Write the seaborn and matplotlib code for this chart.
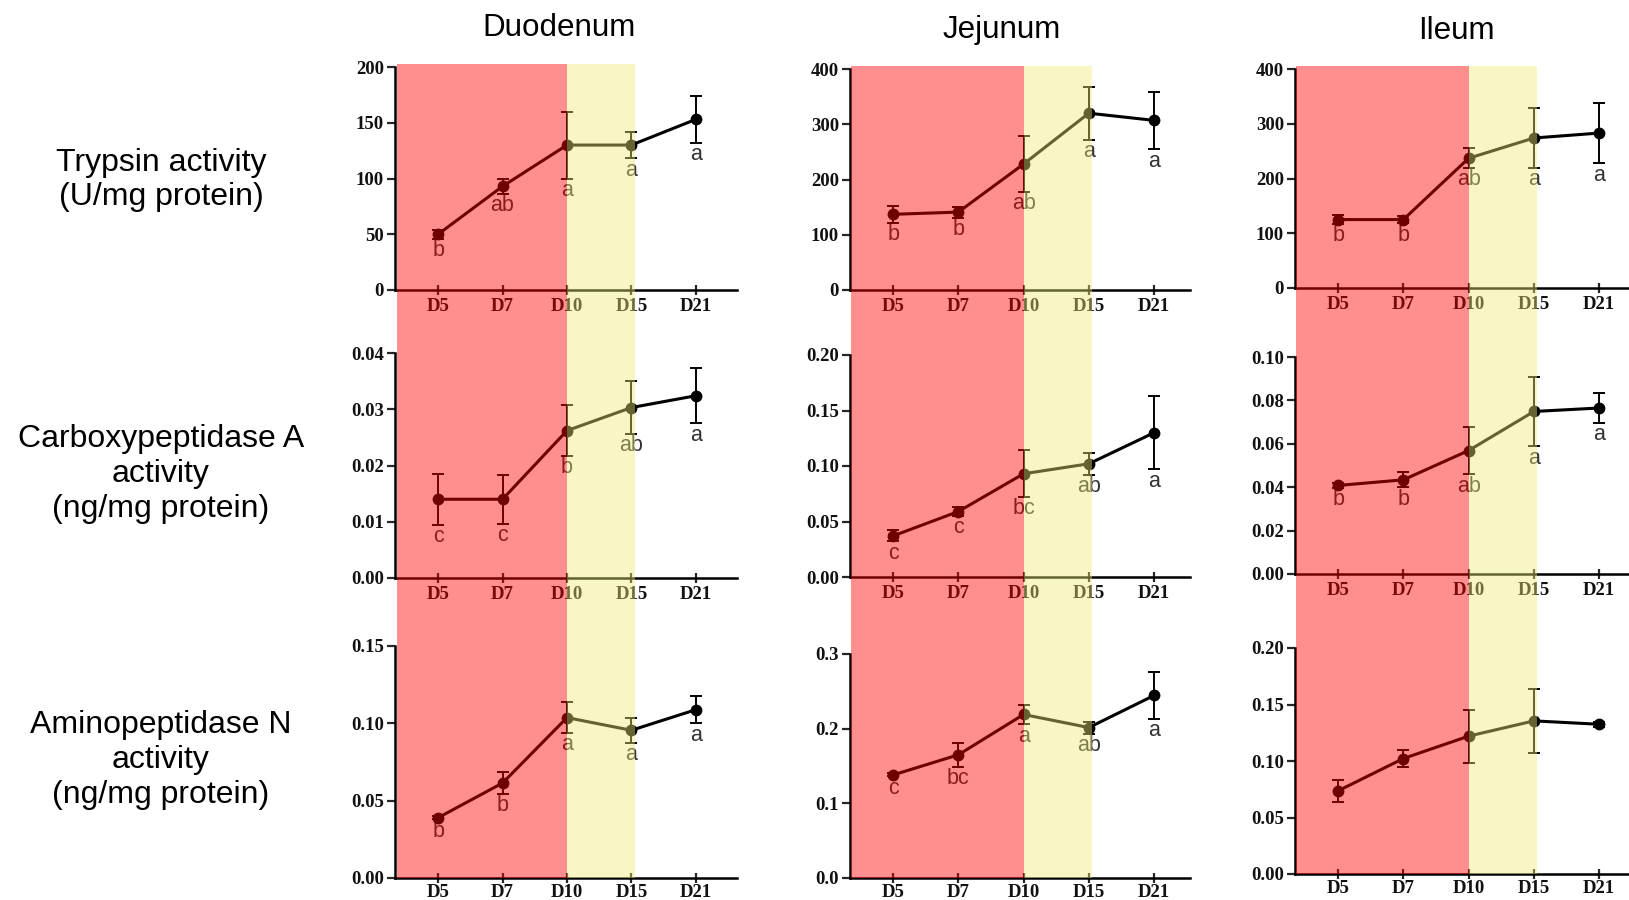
import numpy as np
import pandas as pd
import matplotlib
matplotlib.use("Agg")
import matplotlib.pyplot as plt
import seaborn as sns
from matplotlib.patches import Rectangle

# ---- data ----
days = ["D5", "D7", "D10", "D15", "D21"]
sites = ["Duodenum", "Jejunum", "Ileum"]
row_labels = ["Trypsin activity\n(U/mg protein)",
              "Carboxypeptidase A\nactivity\n(ng/mg protein)",
              "Aminopeptidase N\nactivity\n(ng/mg protein)"]

# trypsin (U/mg protein)
try_duo_mean = [50, 93, 130, 130, 153]
try_duo_sd = [4, 7, 30, 12, 21]
try_duo_let = ["b", "ab", "a", "a", "a"]
try_jej_mean = [137, 141, 228, 320, 307]
try_jej_sd = [15, 10, 50, 48, 52]
try_jej_let = ["b", "b", "ab", "a", "a"]
try_ile_mean = [125, 125, 237, 274, 283]
try_ile_sd = [8, 7, 18, 54, 55]
try_ile_let = ["b", "b", "ab", "a", "a"]

# carboxypeptidase A (ng/mg protein)
cpa_duo_mean = [0.0140, 0.0140, 0.0262, 0.0303, 0.0324]
cpa_duo_sd = [0.0045, 0.0044, 0.0045, 0.0047, 0.0049]
cpa_duo_let = ["c", "c", "b", "ab", "a"]
cpa_jej_mean = [0.037, 0.059, 0.093, 0.102, 0.130]
cpa_jej_sd = [0.005, 0.004, 0.021, 0.010, 0.033]
cpa_jej_let = ["c", "c", "bc", "ab", "a"]
cpa_ile_mean = [0.0408, 0.0434, 0.0569, 0.0749, 0.0765]
cpa_ile_sd = [0.001, 0.0035, 0.011, 0.016, 0.0068]
cpa_ile_let = ["b", "b", "ab", "a", "a"]

# aminopeptidase N (ng/mg protein)
apn_duo_mean = [0.039, 0.0614, 0.1037, 0.0955, 0.1088]
apn_duo_sd = [0.001, 0.007, 0.010, 0.008, 0.0087]
apn_duo_let = ["b", "b", "a", "a", "a"]
apn_jej_mean = [0.138, 0.165, 0.219, 0.2015, 0.2445]
apn_jej_sd = [0.002, 0.016, 0.013, 0.008, 0.031]
apn_jej_let = ["c", "bc", "a", "ab", "a"]
apn_ile_mean = [0.0736, 0.1022, 0.122, 0.1355, 0.1325]
apn_ile_sd = [0.0099, 0.0074, 0.0235, 0.028, 0.002]
apn_ile_let = ["", "", "", "", ""]

means = [[try_duo_mean, try_jej_mean, try_ile_mean],
         [cpa_duo_mean, cpa_jej_mean, cpa_ile_mean],
         [apn_duo_mean, apn_jej_mean, apn_ile_mean]]
sds = [[try_duo_sd, try_jej_sd, try_ile_sd],
       [cpa_duo_sd, cpa_jej_sd, cpa_ile_sd],
       [apn_duo_sd, apn_jej_sd, apn_ile_sd]]
letters = [[try_duo_let, try_jej_let, try_ile_let],
           [cpa_duo_let, cpa_jej_let, cpa_ile_let],
           [apn_duo_let, apn_jej_let, apn_ile_let]]

yticks = [[[0, 50, 100, 150, 200], [0, 100, 200, 300, 400], [0, 100, 200, 300, 400]],
          [[0, 0.01, 0.02, 0.03, 0.04], [0, 0.05, 0.10, 0.15, 0.20], [0, 0.02, 0.04, 0.06, 0.08, 0.10]],
          [[0, 0.05, 0.10, 0.15], [0, 0.1, 0.2, 0.3], [0, 0.05, 0.10, 0.15, 0.20]]]
yfmt = [["{:.0f}", "{:.0f}", "{:.0f}"],
        ["{:.2f}", "{:.2f}", "{:.2f}"],
        ["{:.2f}", "{:.1f}", "{:.2f}"]]

# ---- layout (pixels: left spine, top, right, bottom) ----
W, H = 1629, 900
col_left = [395, 850, 1295]
col_right = [737, 1190, 1641]
col_xlim = [(-0.67, 4.64), (-0.66, 4.55), (-0.66, 4.64)]
row_box = [[(67, 290), (69, 290), (69, 288)],
           [(353, 578), (355, 577), (357, 574)],
           [(646, 878), (654, 878), (648, 874)]]

sns.set_theme(style="ticks")
plt.rcParams['font.family'] = ['Liberation Sans', 'DejaVu Sans']

fig = plt.figure(figsize=(W / 100, H / 100), dpi=100)
axes = [[None] * 3 for _ in range(3)]

for r in range(3):
    for c in range(3):
        top, bot = row_box[r][c]
        ax = fig.add_axes([col_left[c] / W, 1 - bot / H,
                           (col_right[c] - col_left[c]) / W, (bot - top) / H])
        axes[r][c] = ax
        df = pd.DataFrame({"x": np.arange(len(days)), "mean": means[r][c], "sd": sds[r][c]})
        ax.errorbar(df["x"], df["mean"], yerr=df["sd"], fmt="none", ecolor="black",
                    elinewidth=1.4, capsize=4.5, capthick=1.4, zorder=3)
        sns.lineplot(data=df, x="x", y="mean", ax=ax, color="black", linewidth=2.2,
                     marker="o", markersize=8.5, markeredgewidth=0, zorder=4)
        for xi, m, s, lab in zip(df["x"], df["mean"], df["sd"], letters[r][c]):
            if lab:
                ax.annotate(lab, (xi, m - s), xytext=(0, -1), textcoords="offset points",
                            ha="center", va="top", fontsize=15.5, color="#333333")
        ax.set_xlim(*col_xlim[c])
        ax.set_ylim(0, yticks[r][c][-1])
        ax.set_yticks(yticks[r][c])
        ax.set_yticklabels([yfmt[r][c].format(v) for v in yticks[r][c]])
        ax.set_xticks(df["x"])
        ax.set_xticklabels(days)
        ax.set_xlabel("")
        ax.set_ylabel("")
        for side in ["top", "right"]:
            ax.spines[side].set_visible(False)
        for side in ["left", "bottom"]:
            ax.spines[side].set_linewidth(1.8)
            ax.spines[side].set_color("black")
        ax.tick_params(axis="y", direction="out", length=6, width=1.6, pad=2)
        ax.tick_params(axis="x", direction="inout", length=7, width=1.6,
                       pad=2.5 if r < 2 else 0.5)
        for lab in ax.get_xticklabels() + ax.get_yticklabels():
            lab.set_family(["Liberation Serif", "DejaVu Serif"])
            lab.set_fontweight("bold")
            lab.set_fontsize(13.5)
            lab.set_color("#111111")
        ax.patch.set_alpha(0)

# ---- translucent phase bands laid over each column ----
inv = fig.transFigure.inverted()
for c in range(3):
    ax_t, ax_b = axes[0][c], axes[2][c]
    x_left = ax_t.transAxes.transform((0, 0))[0] + 1.5
    x_d10 = ax_t.transData.transform((2, 0))[0]
    x_d15 = ax_t.transData.transform((3.05, 0))[0]
    y_top = ax_t.transAxes.transform((0, 1))[1] + 3
    y_bot = ax_b.transAxes.transform((0, 0))[1]
    (fx0, fy0), (fx1, fy1) = inv.transform([(x_left, y_bot), (x_d10, y_top)])
    fx2 = inv.transform((x_d15, 0))[0]
    fig.add_artist(Rectangle((fx0, fy0), fx1 - fx0, fy1 - fy0, transform=fig.transFigure,
                             facecolor=(1.0, 0.0, 0.0), alpha=0.44, edgecolor="none", zorder=10))
    fig.add_artist(Rectangle((fx1, fy0), fx2 - fx1, fy1 - fy0, transform=fig.transFigure,
                             facecolor=(0.93, 0.92, 0.45), alpha=0.42, edgecolor="none", zorder=10))

# ---- titles ----
title_x = [559, 1002, 1456]
title_y = [28, 30, 31]
for c in range(3):
    fig.text(title_x[c] / W, 1 - title_y[c] / H, sites[c], ha="center", va="center",
             fontsize=22.6, color="black")
label_y = [180, 474, 760]
for r in range(3):
    fig.text(161 / W, 1 - label_y[r] / H, row_labels[r], ha="center", va="center",
             fontsize=23, color="black", linespacing=1.2)

fig.savefig("out.png", dpi=100)
